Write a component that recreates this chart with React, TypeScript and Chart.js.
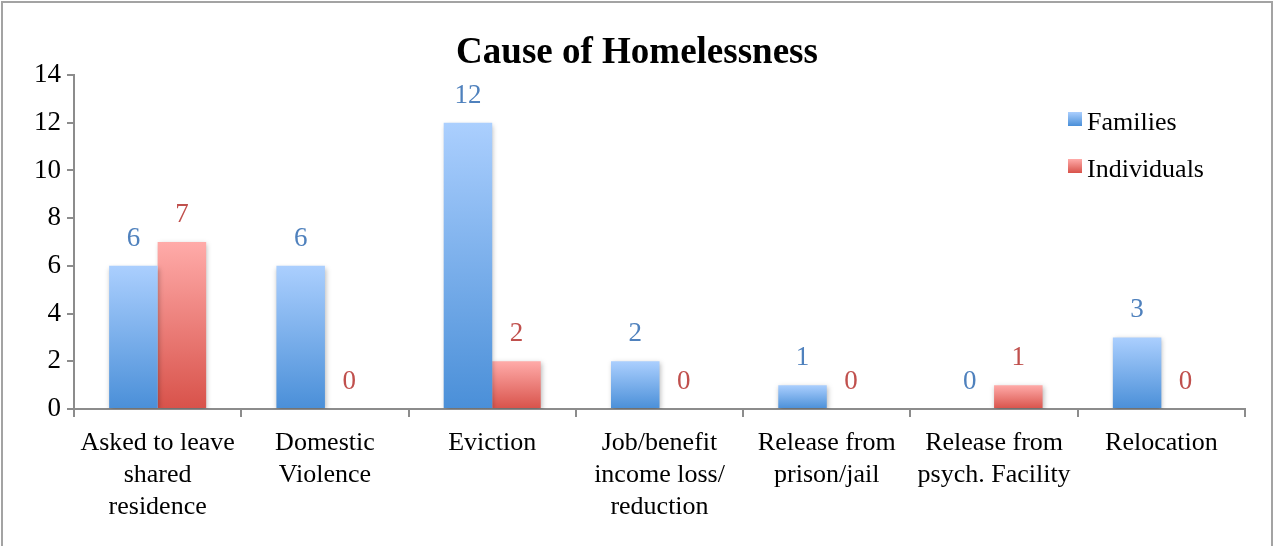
import React, { useEffect, useRef } from "react";
import { Chart, registerables } from "chart.js";

Chart.register(...registerables);

const categories: string[][] = [
  ["Asked to leave", "shared", "residence"],
  ["Domestic", "Violence"],
  ["Eviction"],
  ["Job/benefit", "income loss/", "reduction"],
  ["Release from", "prison/jail"],
  ["Release from", "psych. Facility"],
  ["Relocation"],
];
const families: number[] = [6, 6, 12, 2, 1, 0, 3];
const individuals: number[] = [7, 0, 2, 0, 0, 1, 0];
const seriesNames: string[] = ["Families", "Individuals"];
const titleText = "Cause of Homelessness";

const FONT = "'Liberation Serif', 'Times New Roman', serif";
const gradStops = [
  ["#abcffe", "#4a8fd8"],
  ["#ffaba9", "#d8524a"],
];
const labelColors = ["#4f81bd", "#c0504d"];

function makeBg(i: number) {
  return (ctx: any) => {
    const chart = ctx.chart;
    const fallback = gradStops[i][1];
    if (!chart.chartArea || ctx.type !== "data" || !ctx.parsed) return fallback;
    const ys = chart.scales.y;
    const top = ys.getPixelForValue(ctx.parsed.y);
    const base = ys.getPixelForValue(0);
    if (!isFinite(top) || Math.abs(base - top) < 1) return fallback;
    const g = chart.ctx.createLinearGradient(0, top, 0, base);
    g.addColorStop(0, gradStops[i][0]);
    g.addColorStop(1, gradStops[i][1]);
    return g;
  };
}

const decorPlugin = {
  id: "decor",
  beforeDraw(chart: any) {
    const c = chart.ctx;
    c.save();
    c.fillStyle = "#ffffff";
    c.fillRect(0, 0, chart.width, chart.height);
    c.strokeStyle = "#a3a3a3";
    c.lineWidth = 2;
    c.strokeRect(2, 2, 1270, 600);
    c.fillStyle = "#000";
    c.font = `bold 37px ${FONT}`;
    c.textAlign = "center";
    c.textBaseline = "middle";
    c.fillText(titleText, 637, 53);
    c.restore();
  },
  beforeDatasetsDraw(chart: any) {
    const c = chart.ctx;
    c.save();
    c.shadowColor = "rgba(0,0,0,0.28)";
    c.shadowBlur = 5;
    c.shadowOffsetX = 1;
    c.shadowOffsetY = 2;
  },
  afterDatasetsDraw(chart: any) {
    const c = chart.ctx;
    c.restore();
    c.save();
    c.font = `27px ${FONT}`;
    c.textAlign = "center";
    c.textBaseline = "alphabetic";
    chart.data.datasets.forEach((ds: any, di: number) => {
      const meta = chart.getDatasetMeta(di);
      c.fillStyle = labelColors[di];
      meta.data.forEach((el: any, j: number) => {
        c.fillText(String(ds.data[j]), el.x, el.y - 20);
      });
    });
    const lx = 1068;
    const ly = [123, 170];
    c.font = `26px ${FONT}`;
    seriesNames.forEach((name, i) => {
      const g = c.createLinearGradient(0, ly[i] - 11, 0, ly[i] + 3);
      g.addColorStop(0, gradStops[i][0]);
      g.addColorStop(1, gradStops[i][1]);
      c.fillStyle = g;
      c.fillRect(lx, ly[i] - 11, 14, 14);
      c.fillStyle = "#000";
      c.textAlign = "left";
      c.textBaseline = "middle";
      c.fillText(name, lx + 19, ly[i]);
    });
    c.restore();
  },
};

export default function App() {
  const ref = useRef<HTMLCanvasElement>(null);
  useEffect(() => {
    if (!ref.current) return;
    const chart = new Chart(ref.current, {
      type: "bar",
      data: {
        labels: categories as any,
        datasets: [
          {
            label: seriesNames[0],
            data: families,
            backgroundColor: makeBg(0) as any,
            categoryPercentage: 0.58,
            barPercentage: 1,
          },
          {
            label: seriesNames[1],
            data: individuals,
            backgroundColor: makeBg(1) as any,
            categoryPercentage: 0.58,
            barPercentage: 1,
          },
        ],
      },
      options: {
        responsive: false,
        animation: false,
        devicePixelRatio: 1,
        layout: { padding: { top: 75, right: 30, left: 0, bottom: 0 } },
        plugins: {
          legend: { display: false },
          title: { display: false },
          tooltip: { enabled: false },
        },
        scales: {
          x: {
            border: { color: "#8c8c8c", width: 2 },
            grid: {
              display: true,
              offset: true,
              drawOnChartArea: false,
              drawTicks: true,
              tickLength: 8,
              color: "#8c8c8c",
              lineWidth: 2,
            },
            ticks: {
              color: "#000",
              font: { family: FONT, size: 26, lineHeight: 1.24 },
              padding: 10,
              maxRotation: 0,
              autoSkip: false,
            },
            afterFit: (s: any) => {
              s.height = 137;
            },
          },
          y: {
            min: 0,
            max: 14,
            border: { color: "#8c8c8c", width: 2 },
            grid: {
              display: true,
              drawOnChartArea: false,
              drawTicks: true,
              tickLength: 7,
              color: "#8c8c8c",
              lineWidth: 2,
            },
            ticks: {
              stepSize: 2,
              color: "#000",
              font: { family: FONT, size: 27 },
              padding: 6,
            },
            afterFit: (s: any) => {
              s.width = 74;
            },
          },
        },
      },
      plugins: [decorPlugin],
    });
    return () => chart.destroy();
  }, []);
  return (
    <canvas
      ref={ref}
      width={1275}
      height={546}
      style={{ position: "absolute", left: 0, top: 0, width: 1275, height: 546 }}
    />
  );
}
